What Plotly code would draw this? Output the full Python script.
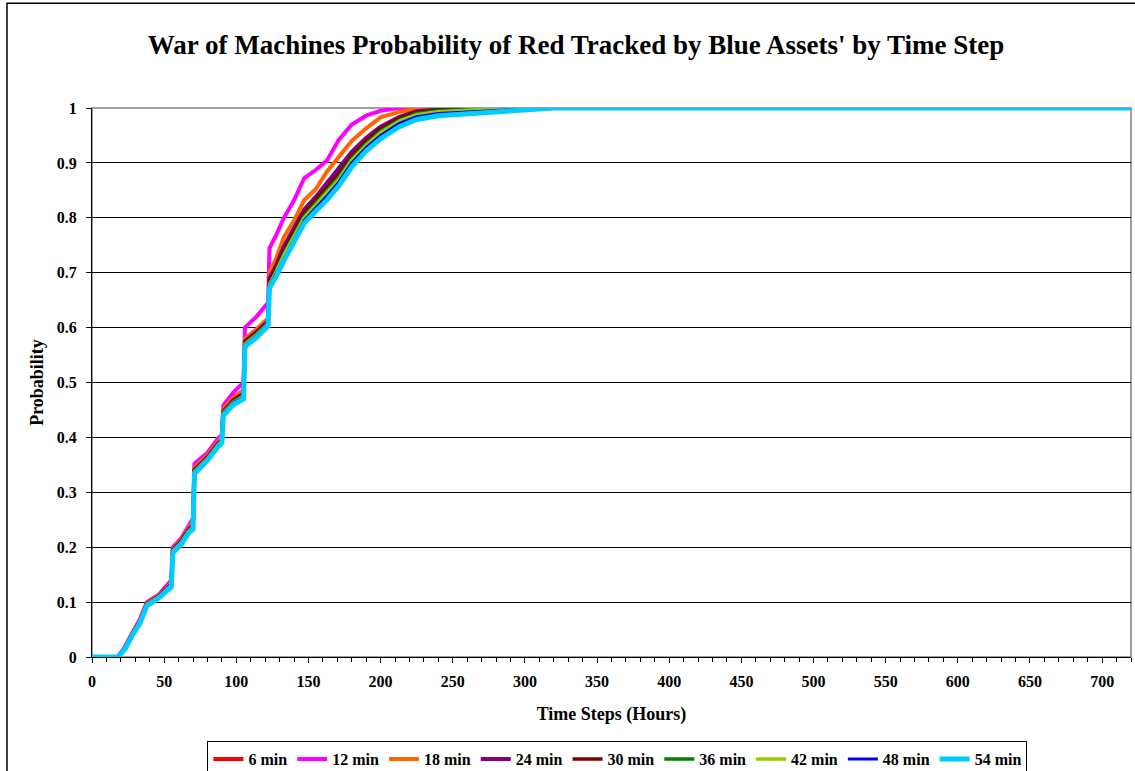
import plotly.graph_objects as go

# Time steps (hours) shared by every series
hours = [0, 18, 23, 28, 33, 38, 46, 55, 56, 62, 67, 70, 71, 80, 87, 90, 91, 98, 105, 106,
         114, 122, 123, 127, 133, 140, 147, 155, 163, 171, 180, 190, 200, 213, 225, 240,
         260, 280, 300, 320, 720]

# Probability of Red tracked, one list per sensor interval
p_6min = [0, 0, 0.017, 0.043, 0.063, 0.097, 0.11, 0.132, 0.194, 0.211, 0.231, 0.239, 0.34, 0.363,
          0.387, 0.395, 0.446, 0.466, 0.477, 0.572, 0.589, 0.609, 0.686, 0.706, 0.742, 0.775,
          0.81, 0.834, 0.858, 0.882, 0.915, 0.942, 0.963, 0.982, 0.992, 0.996, 0.998, 1.0, 1.0,
          1.0, 1.0]
p_12min = [0, 0, 0.02, 0.046, 0.068, 0.1, 0.113, 0.14, 0.2, 0.217, 0.24, 0.252, 0.352, 0.372,
           0.397, 0.405, 0.458, 0.482, 0.5, 0.6, 0.62, 0.645, 0.745, 0.765, 0.8, 0.832, 0.872,
           0.887, 0.905, 0.942, 0.97, 0.986, 0.995, 1.0, 1.0, 1.0, 1.0, 1.0, 1.0, 1.0, 1.0]
p_18min = [0, 0, 0.018, 0.044, 0.065, 0.098, 0.111, 0.135, 0.197, 0.214, 0.235, 0.245, 0.345,
           0.367, 0.391, 0.4, 0.452, 0.473, 0.486, 0.58, 0.597, 0.617, 0.702, 0.722, 0.765, 0.795,
           0.832, 0.852, 0.885, 0.912, 0.94, 0.963, 0.983, 0.993, 0.999, 1.0, 1.0, 1.0, 1.0, 1.0,
           1.0]
p_24min = [0, 0, 0.017, 0.043, 0.063, 0.097, 0.11, 0.133, 0.195, 0.212, 0.232, 0.24, 0.341,
           0.364, 0.388, 0.396, 0.447, 0.468, 0.48, 0.575, 0.592, 0.612, 0.69, 0.71, 0.748, 0.78,
           0.815, 0.838, 0.864, 0.89, 0.92, 0.946, 0.966, 0.984, 0.994, 0.997, 0.999, 1.0, 1.0,
           1.0, 1.0]
p_30min = [0, 0, 0.017, 0.043, 0.063, 0.097, 0.11, 0.132, 0.194, 0.211, 0.231, 0.239, 0.34,
           0.363, 0.387, 0.395, 0.446, 0.467, 0.478, 0.573, 0.59, 0.61, 0.685, 0.705, 0.74, 0.773,
           0.808, 0.832, 0.856, 0.88, 0.913, 0.94, 0.962, 0.981, 0.992, 0.996, 0.998, 0.999, 1.0,
           1.0, 1.0]
p_36min = [0, 0, 0.017, 0.042, 0.062, 0.096, 0.109, 0.131, 0.193, 0.21, 0.23, 0.238, 0.339,
           0.362, 0.386, 0.394, 0.445, 0.465, 0.476, 0.571, 0.588, 0.608, 0.68, 0.7, 0.735, 0.768,
           0.803, 0.826, 0.85, 0.874, 0.908, 0.935, 0.958, 0.978, 0.99, 0.995, 0.997, 0.999, 1.0,
           1.0, 1.0]
p_42min = [0, 0, 0.016, 0.042, 0.062, 0.096, 0.109, 0.131, 0.193, 0.209, 0.229, 0.237, 0.338,
           0.361, 0.385, 0.393, 0.444, 0.464, 0.475, 0.57, 0.587, 0.607, 0.678, 0.698, 0.732,
           0.765, 0.8, 0.823, 0.846, 0.87, 0.905, 0.932, 0.955, 0.976, 0.988, 0.993, 0.996, 0.998,
           1.0, 1.0, 1.0]
p_48min = [0, 0, 0.016, 0.041, 0.061, 0.095, 0.108, 0.13, 0.192, 0.208, 0.228, 0.236, 0.337,
           0.36, 0.384, 0.392, 0.443, 0.463, 0.473, 0.568, 0.585, 0.606, 0.675, 0.695, 0.727,
           0.76, 0.795, 0.818, 0.84, 0.865, 0.9, 0.928, 0.95, 0.972, 0.984, 0.99, 0.993, 0.996,
           0.998, 1.0, 1.0]
p_54min = [0, 0, 0.015, 0.04, 0.06, 0.093, 0.107, 0.128, 0.19, 0.206, 0.226, 0.233, 0.334, 0.358,
           0.382, 0.39, 0.44, 0.46, 0.47, 0.565, 0.582, 0.603, 0.672, 0.69, 0.722, 0.755, 0.79,
           0.812, 0.833, 0.858, 0.893, 0.922, 0.944, 0.966, 0.979, 0.986, 0.989, 0.992, 0.996,
           1.0, 1.0]

series = [
    ("6 min", p_6min, "#FF0000", 4),
    ("12 min", p_12min, "#FF00FF", 4),
    ("18 min", p_18min, "#FF6600", 4),
    ("24 min", p_24min, "#800080", 4),
    ("30 min", p_30min, "#800000", 3.5),
    ("36 min", p_36min, "#008000", 3.5),
    ("42 min", p_42min, "#99CC00", 3.5),
    ("48 min", p_48min, "#0000FF", 3),
    ("54 min", p_54min, "#00CCFF", 5),
]

FONT = "Liberation Serif, Times New Roman, serif"

fig = go.Figure()

for name, vals, color, width in series:
    fig.add_trace(
        go.Scatter(
            x=hours,
            y=vals,
            name=name,
            mode="lines",
            line=dict(color=color, width=width),
        )
    )

fig.update_layout(
    width=1135,
    height=771,
    paper_bgcolor="white",
    plot_bgcolor="white",
    margin=dict(l=92, r=4, t=108, b=114),
    font=dict(family=FONT, color="black", size=16, weight="bold"),
    title=dict(
        text="War of Machines Probability of Red Tracked by Blue Assets' by Time Step",
        x=0.5075,
        xref="container",
        xanchor="center",
        y=0.942,
        yanchor="middle",
        font=dict(family=FONT, size=27, weight="bold"),
    ),
    xaxis=dict(
        range=[0, 720],
        tickmode="linear",
        tick0=0,
        dtick=50,
        ticks="outside",
        ticklen=5,
        tickcolor="black",
        showgrid=False,
        zeroline=False,
        showline=True,
        linecolor="black",
        linewidth=1,
        automargin=False,
        ticklabelstandoff=5,
        tickfont=dict(size=16, weight="bold"),
        minor=dict(dtick=10, ticks="outside", ticklen=4, tickcolor="black", showgrid=False),
        title=dict(text="Time Steps (Hours)", font=dict(size=18, weight="bold"), standoff=18),
    ),
    yaxis=dict(
        range=[0, 1],
        tickmode="linear",
        tick0=0,
        dtick=0.1,
        ticks="outside",
        ticklen=5,
        tickcolor="black",
        showgrid=True,
        gridcolor="black",
        gridwidth=1,
        zeroline=False,
        showline=True,
        linecolor="black",
        linewidth=1,
        automargin=False,
        tickformat="~g",
        ticklabelstandoff=6,
        tickfont=dict(size=16, weight="bold"),
        title=dict(text="Probability", font=dict(size=18, weight="bold"), standoff=8),
    ),
    legend=dict(
        orientation="h",
        x=0.544,
        xref="container",
        xanchor="center",
        y=0.0389,
        yref="container",
        yanchor="top",
        bordercolor="black",
        borderwidth=1,
        font=dict(size=16, weight="bold"),
        itemwidth=30,
        tracegroupgap=0,
    ),
    shapes=[
        # plot area border
        dict(type="rect", xref="paper", yref="paper", x0=0, x1=1, y0=0, y1=1,
             line=dict(color="#808080", width=1.5), layer="below"),
        # chart area frame
        dict(type="rect", xref="paper", yref="paper", x0=-0.0818, x1=1.02, y0=-0.3, y1=1.191,
             line=dict(color="black", width=1.5), layer="below"),
    ],
)

fig.write_html(
    "out.html",
    config={"displayModeBar": False},
    post_script="document.body.style.margin='0px';",
)
